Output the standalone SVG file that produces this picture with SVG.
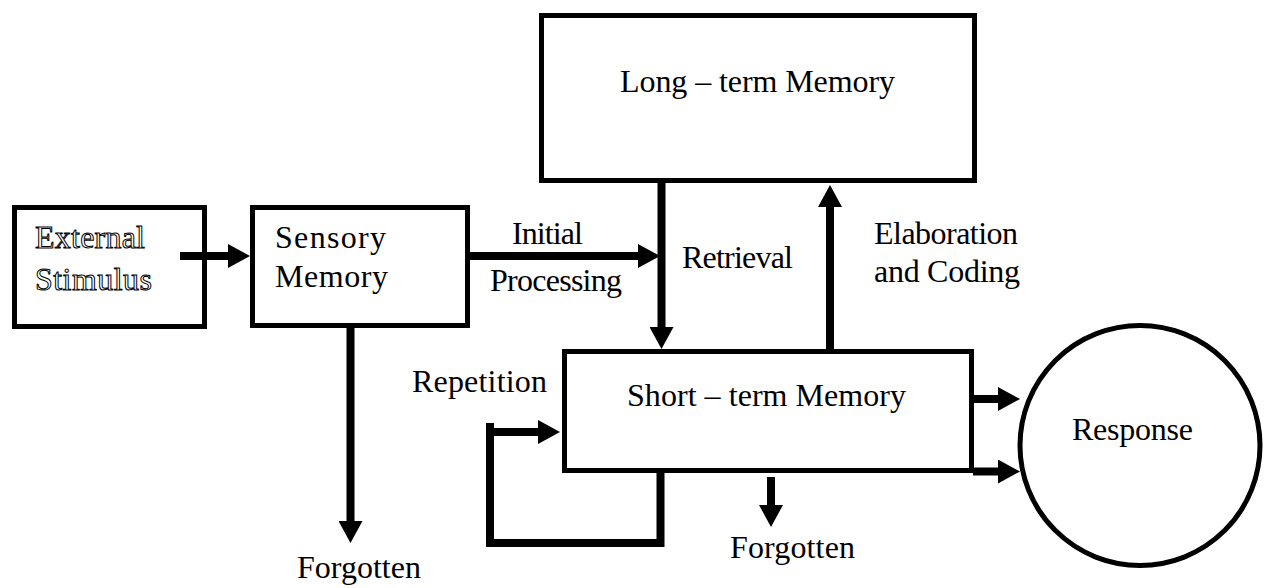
<svg xmlns="http://www.w3.org/2000/svg" width="1270" height="588" viewBox="0 0 1270 588">
  <style>
    .box { fill: #ffffff; stroke: #000000; stroke-width: 5; }
    .lbl { font-family: "Liberation Serif", "Times New Roman", serif; font-size: 32px; fill: #000000; }
    .outline { font-family: "Liberation Serif", "Times New Roman", serif; font-size: 32px; fill: #ffffff; stroke: #000000; stroke-width: 1; }
    .wire { fill: none; stroke: #000000; stroke-width: 8; }
    .arrow { fill: none; stroke: #000000; stroke-width: 8; marker-end: url(#head); }
  </style>
  <defs>
    <!-- solid triangular head, placed ahead of the line end -->
    <marker id="head" viewBox="0 0 22 24" refX="0" refY="12" markerWidth="22" markerHeight="24" markerUnits="userSpaceOnUse" orient="auto">
      <path d="M0,0 L22,12 L0,24 Z" fill="#000000"/>
    </marker>
  </defs>

  <rect width="1270" height="588" fill="#ffffff"/>

  <g id="external-stimulus">
    <rect class="box" x="14.5" y="207.5" width="190" height="119"/>
    <text class="outline" x="35" y="248" textLength="110" lengthAdjust="spacing">External</text>
    <text class="outline" x="35" y="290" textLength="117" lengthAdjust="spacing">Stimulus</text>
  </g>

  <g id="sensory-memory">
    <rect class="box" x="252.5" y="207.5" width="215" height="118"/>
    <text class="lbl" x="275" y="248" textLength="111" lengthAdjust="spacing">Sensory</text>
    <text class="lbl" x="275" y="287" textLength="113" lengthAdjust="spacing">Memory</text>
  </g>

  <g id="long-term-memory">
    <rect class="box" x="541.5" y="15.5" width="433" height="165"/>
    <text class="lbl" x="620" y="92" textLength="275" lengthAdjust="spacing">Long – term Memory</text>
  </g>

  <g id="short-term-memory">
    <rect class="box" x="564.5" y="351.5" width="407" height="119"/>
    <text class="lbl" x="627" y="406" textLength="279" lengthAdjust="spacing">Short – term Memory</text>
  </g>

  <g id="response">
    <circle class="box" cx="1140" cy="445.5" r="120"/>
    <text class="lbl" x="1072" y="440" textLength="121" lengthAdjust="spacing">Response</text>
  </g>

  <g id="connectors">
    <!-- stimulus into sensory store -->
    <line class="arrow" x1="180" y1="256" x2="228" y2="256"/>
    <!-- initial processing -->
    <line class="arrow" x1="470" y1="256" x2="638" y2="256"/>
    <text class="lbl" x="512" y="244" textLength="71" lengthAdjust="spacing">Initial</text>
    <text class="lbl" x="490" y="291" textLength="132" lengthAdjust="spacing">Processing</text>
    <!-- retrieval from long-term store -->
    <line class="arrow" x1="661.5" y1="182" x2="661.5" y2="327"/>
    <text class="lbl" x="682" y="268" textLength="111" lengthAdjust="spacing">Retrieval</text>
    <!-- elaboration and coding into long-term store -->
    <line class="arrow" x1="830" y1="352" x2="830" y2="207"/>
    <text class="lbl" x="874" y="244" textLength="144" lengthAdjust="spacing">Elaboration</text>
    <text class="lbl" x="874" y="282" textLength="146" lengthAdjust="spacing">and Coding</text>
    <!-- sensory decay -->
    <line class="arrow" x1="350.5" y1="327" x2="350.5" y2="521"/>
    <text class="lbl" x="297" y="578" textLength="124" lengthAdjust="spacing">Forgotten</text>
    <!-- short-term decay -->
    <line class="arrow" x1="771" y1="477" x2="771" y2="505"/>
    <text class="lbl" x="730" y="558" textLength="125" lengthAdjust="spacing">Forgotten</text>
    <!-- outputs to response -->
    <line class="arrow" x1="973" y1="399" x2="998" y2="399"/>
    <line class="arrow" x1="973" y1="471.5" x2="998" y2="471.5"/>
    <!-- repetition loop -->
    <path class="wire" d="M660.5,472 V543 H490"/>
    <line class="wire" x1="490" y1="423" x2="490" y2="547"/>
    <line class="arrow" x1="490" y1="432" x2="538" y2="432"/>
    <text class="lbl" x="412" y="392" textLength="135" lengthAdjust="spacing">Repetition</text>
  </g>
</svg>
